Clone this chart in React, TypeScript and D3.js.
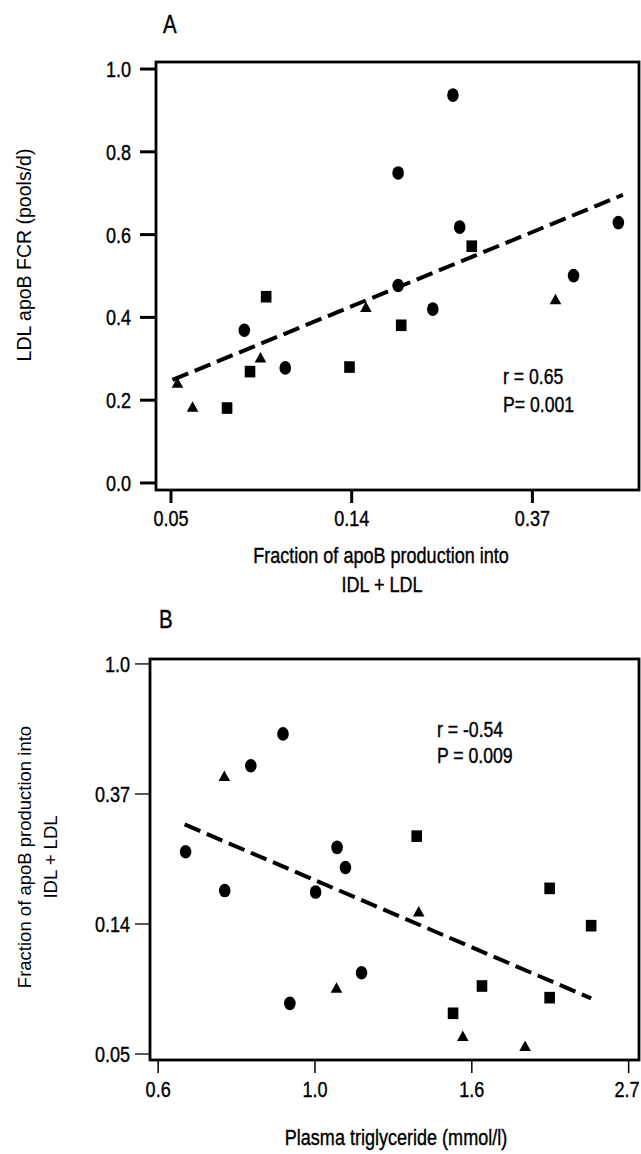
import * as React from "react";
import * as d3 from "d3";

// panel A: LDL apoB FCR vs fraction of apoB production into IDL + LDL
const aCircleX = [0.237, 0.175, 0.246, 0.592, 0.175, 0.462, 0.0747, 0.212, 0.0937];
const aCircleY = [0.937, 0.749, 0.618, 0.629, 0.477, 0.501, 0.369, 0.42, 0.278];
const aSquareX = [0.263, 0.0843, 0.178, 0.0771, 0.1337, 0.0679];
const aSquareY = [0.572, 0.45, 0.381, 0.269, 0.28, 0.181];
const aTriX = [0.418, 0.1464, 0.0817, 0.0516, 0.0561];
const aTriY = [0.444, 0.425, 0.303, 0.242, 0.184];
const aFitX = [0.0502, 0.607];
const aFitY = [0.249, 0.696];
const aYTicks = [0, 0.2, 0.4, 0.6, 0.8, 1.0];
const aXTickExp = [-3, -2, -1];
const aXTickLabels = ["0.05", "0.14", "0.37"];

// panel B: fraction into IDL + LDL vs plasma triglyceride
const bCircleX = [0.903, 0.815, 0.662, 1.073, 1.102, 0.75, 1.002, 1.16, 0.923];
const bCircleY = [0.584, 0.457, 0.236, 0.244, 0.209, 0.175, 0.173, 0.093, 0.0735];
const bSquareX = [1.383, 2.113, 2.412, 1.703, 2.113, 1.553];
const bSquareY = [0.266, 0.178, 0.1336, 0.084, 0.0768, 0.0681];
const bTriX = [0.749, 1.392, 1.071, 1.602, 1.954];
const bTriY = [0.422, 0.149, 0.0829, 0.0572, 0.053];
const bFitX = [0.66, 2.412];
const bFitY = [0.291, 0.0764];
const bYTickExp = [-3, -2, -1, 0];
const bYTickLabels = ["0.05", "0.14", "0.37", "1.0"];
const bXTickExp = [-0.5, 0, 0.5, 1];
const bXTickLabels = ["0.6", "1.0", "1.6", "2.7"];

const regular = "'Liberation Sans', Arial, sans-serif";

// condensed text: Liberation Sans squeezed horizontally (no narrow face installed)
const NText = ({ x, y, size = 22, anchor = "start", dy = "0", children }) => (
  <text
    transform={`translate(${x},${y}) scale(0.82,1)`}
    dy={dy}
    textAnchor={anchor}
    fontFamily={regular}
    fontSize={size}
    stroke="#000"
    strokeWidth={0.4}
  >
    {children}
  </text>
);

const Markers = ({ x, y, cx, cy, sx, sy, tx, ty }) => (
  <g fill="#000">
    {cx.map((v, i) => (
      <ellipse key={"c" + i} cx={x(v)} cy={y(cy[i])} rx={5.8} ry={6.8} />
    ))}
    {sx.map((v, i) => (
      <rect key={"s" + i} x={x(v) - 5.3} y={y(sy[i]) - 5.8} width={10.6} height={11.6} />
    ))}
    {tx.map((v, i) => (
      <path
        key={"t" + i}
        transform={`translate(${x(v)},${y(ty[i])})`}
        d="M0,-5.5L5.8,5L-5.8,5Z"
      />
    ))}
  </g>
);

const Fit = ({ x, y, fx, fy }) => {
  const line = d3
    .line<number>()
    .x((d) => x(d))
    .y((d, i) => y(fy[i]));
  return (
    <path d={line(fx) || ""} fill="none" stroke="#000" strokeWidth={4} strokeDasharray="17 7" />
  );
};

export default function App() {
  // panel A scales
  const axL = 156, axR = 639, ayT = 62, ayB = 490;
  const xA = d3.scaleLog().domain([Math.exp(-3.083), Math.exp(-0.41)]).range([axL, axR]);
  const yA = d3.scaleLinear().domain([-0.017, 1.017]).range([ayB, ayT]);

  // panel B scales
  const bxL = 150, bxR = 639, byT = 659, byB = 1060;
  const xB = d3.scaleLog().domain([Math.exp(-0.526), Math.exp(1.033)]).range([bxL, bxR]);
  const yB = d3.scaleLog().domain([Math.exp(-3.046), Math.exp(0.038)]).range([byB, byT]);

  return (
    <svg
      width={641}
      height={1154}
      style={{ position: "absolute", left: 0, top: 0, background: "#fff" }}
    >
      {/* ---------- A ---------- */}
      <NText x={163} y={33} size={25}>A</NText>
      <rect x={axL} y={ayT} width={axR - axL} height={ayB - ayT} fill="none" stroke="#000" strokeWidth={2.8} />
      {aYTicks.map((t) => (
        <g key={"ay" + t}>
          <line x1={140} x2={axL} y1={yA(t)} y2={yA(t)} stroke="#000" strokeWidth={3} />
          <NText x={131} y={yA(t)} dy="0.36em" anchor="end">
            {t.toFixed(1)}
          </NText>
        </g>
      ))}
      {aXTickExp.map((e, i) => (
        <g key={"ax" + e}>
          <line x1={xA(Math.exp(e))} x2={xA(Math.exp(e))} y1={ayB} y2={ayB + 13} stroke="#000" strokeWidth={3} />
          <NText x={xA(Math.exp(e))} y={526} anchor="middle">
            {aXTickLabels[i]}
          </NText>
        </g>
      ))}
      <Fit x={xA} y={yA} fx={aFitX} fy={aFitY} />
      <Markers x={xA} y={yA} cx={aCircleX} cy={aCircleY} sx={aSquareX} sy={aSquareY} tx={aTriX} ty={aTriY} />
      <NText x={503} y={384} size={21.5}>r = 0.65</NText>
      <NText x={503} y={412} size={21.5}>P= 0.001</NText>
      <text transform="translate(31,255) rotate(-90)" textAnchor="middle" fontFamily={regular} fontSize={19.5}>
        LDL apoB FCR (pools/d)
      </text>
      <NText x={381} y={563} anchor="middle">Fraction of apoB production into</NText>
      <NText x={382} y={592} anchor="middle">IDL + LDL</NText>

      {/* ---------- B ---------- */}
      <NText x={159} y={628} size={25}>B</NText>
      <rect x={bxL} y={byT} width={bxR - bxL} height={byB - byT} fill="none" stroke="#000" strokeWidth={2.8} />
      {bYTickExp.map((e, i) => (
        <g key={"by" + e}>
          <line x1={135} x2={bxL} y1={yB(Math.exp(e))} y2={yB(Math.exp(e))} stroke="#000" strokeWidth={1.3} />
          <NText x={130} y={yB(Math.exp(e))} dy="0.36em" anchor="end">
            {bYTickLabels[i]}
          </NText>
        </g>
      ))}
      {bXTickExp.map((e, i) => (
        <g key={"bx" + e}>
          <line x1={xB(Math.exp(e))} x2={xB(Math.exp(e))} y1={byB} y2={byB + 13} stroke="#000" strokeWidth={1.5} />
          <NText x={Math.min(xB(Math.exp(e)), 627)} y={1097} anchor="middle">
            {bXTickLabels[i]}
          </NText>
        </g>
      ))}
      <Fit x={xB} y={yB} fx={bFitX} fy={bFitY} />
      <Markers x={xB} y={yB} cx={bCircleX} cy={bCircleY} sx={bSquareX} sy={bSquareY} tx={bTriX} ty={bTriY} />
      <NText x={437} y={737} size={21.5}>r = -0.54</NText>
      <NText x={437} y={763} size={21.5}>P = 0.009</NText>
      <text transform="translate(31,857) rotate(-90)" textAnchor="middle" fontFamily={regular} fontSize={18.5}>
        Fraction of apoB production into
      </text>
      <text transform="translate(57,857) rotate(-90)" textAnchor="middle" fontFamily={regular} fontSize={18.5}>
        IDL + LDL
      </text>
      <NText x={396} y={1145} anchor="middle">Plasma triglyceride (mmol/l)</NText>
    </svg>
  );
}
